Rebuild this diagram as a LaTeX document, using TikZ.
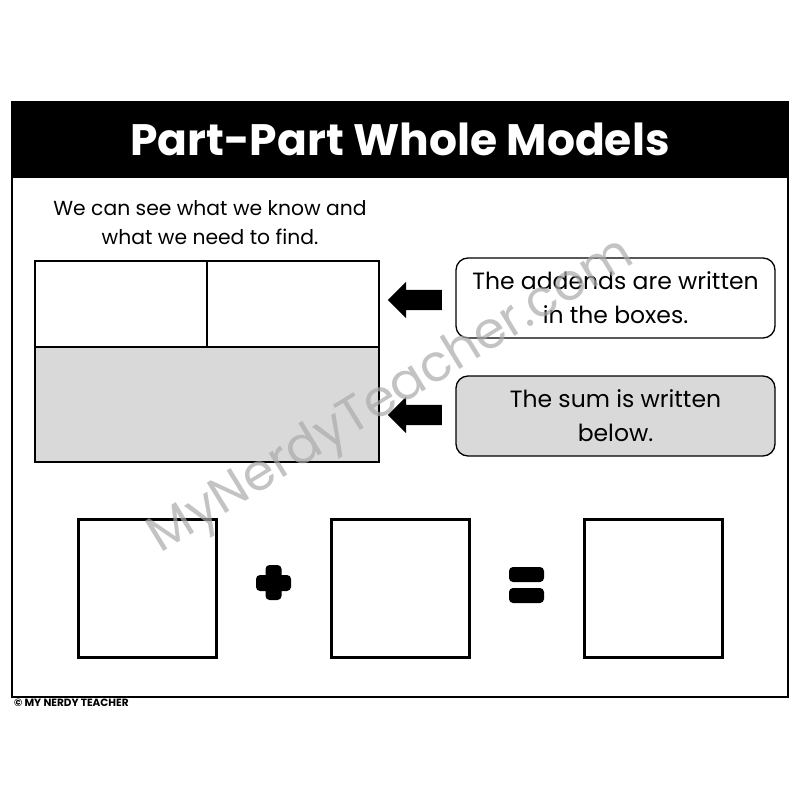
\documentclass[tikz,border=0pt]{standalone}
\usepackage{fontspec}
\setmainfont{Poppins}
\usepackage{xcolor}
\usetikzlibrary{shapes.arrows,positioning}
\definecolor{sumgray}{RGB}{217,217,217}
\definecolor{markgray}{RGB}{170,170,170}

\begin{document}
\begin{tikzpicture}[x=1pt,y=-1pt]
  \tikzset{partbox/.style = {draw,line width=2.5pt,minimum width=172pt,minimum height=86pt,inner sep=0pt}}
  \tikzset{sumbox/.style = {draw,line width=2.5pt,fill=sumgray,minimum width=344pt,minimum height=115pt,inner sep=0pt}}
  \tikzset{note/.style = {draw,line width=1.3pt,rounded corners=12pt,minimum width=319pt,minimum height=80pt,align=center,font=\fontsize{23.5}{34}\selectfont}}
  \tikzset{graynote/.style = {note,fill=sumgray}}
  \tikzset{answerbox/.style = {draw,line width=3pt,minimum size=138pt,inner sep=0pt}}
  \tikzset{pointer/.style = {single arrow,fill=black,shape border rotate=180,minimum height=54pt,minimum width=36pt,inner sep=10pt,single arrow head extend=8pt}}
  \tikzset{signbar/.style = {fill=black,rounded corners=4pt}}

  \useasboundingbox (0,0) rectangle (800,800);

  % title band and frame
  \fill[black] (12,102) rectangle (788,178);
  \draw[line width=1.5pt] (12,102) rectangle (788,697);
  \node[text=white,font=\fontsize{44}{50}\selectfont\bfseries] (title) at (400,139) {Part-Part Whole Models};

  \node[align=center,font=\fontsize{20.3}{29}\selectfont] (intro) at (210,223) {We can see what we know and\\what we need to find.};

  % the model
  \node[sumbox] (sum) at (207,404.5) {};
  \node[partbox] (partA) at (121,304) {};
  \node[partbox] (partB) at (293,304) {};

  \node[note] (addnote) at (615.5,298) {The addends are written\\in the boxes.};
  \node[graynote] (sumnote) at (615.5,416) {The sum is written\\below.};

  \node[pointer] (arrA) at (420,300) {};
  \node[pointer] (arrB) at (420,415) {};

  % number sentence
  \foreach \name/\x in {first/147, second/400, total/653}
    \node[answerbox] (\name) at (\x,588.5) {};

  \fill[signbar] (256,575) rectangle (291,591);
  \fill[signbar] (265.5,565) rectangle (281.5,600);
  \fill[signbar] (509,567) rectangle (544,582);
  \fill[signbar] (509,588) rectangle (544,603);

  \node[anchor=west,inner sep=0pt,font=\fontsize{10.5}{11}\selectfont\bfseries] (credit) at (14,703) {© MY NERDY TEACHER};

  % watermark
  \node[rotate=31.5,text=markgray,opacity=0.7,font=\fontsize{51}{51}\selectfont] (mark) at (392,397) {MyNerdyTeacher.com};
\end{tikzpicture}
\end{document}
